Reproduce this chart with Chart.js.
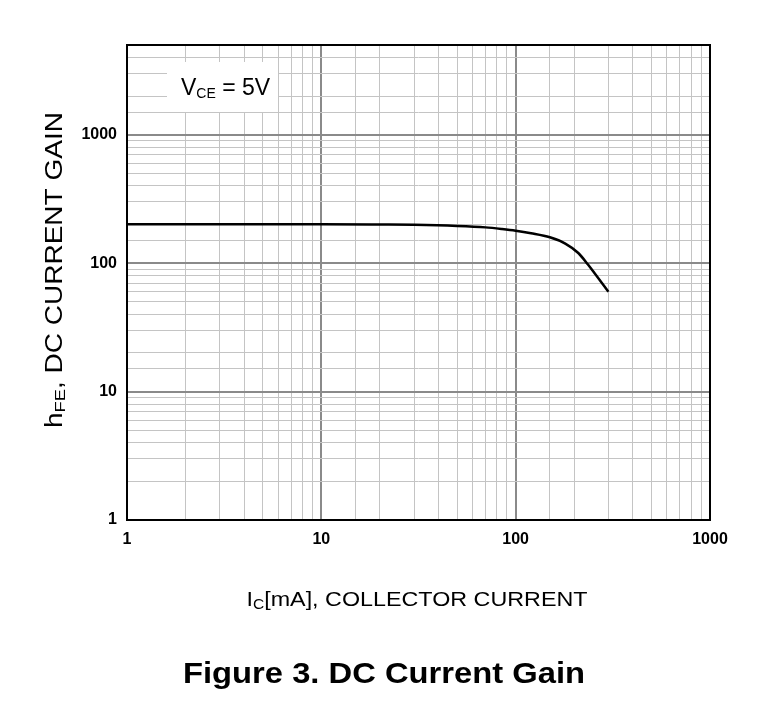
<!DOCTYPE html>
<html>
<head>
<meta charset="utf-8">
<script src="https://cdn.jsdelivr.net/npm/chart.js@4/dist/chart.umd.min.js"></script>
<style>
  html, body { margin: 0; padding: 0; background: #fff; }
  #wrap { width: 774px; height: 714px; }
</style>
</head>
<body>
<div id="wrap"><canvas id="gain" width="774" height="714"></canvas></div>
<script>
// collector current in mA, and the DC current gain
var currentMA = [1, 2, 5, 10, 20, 30, 50, 70, 85, 100, 120, 150, 180, 210, 235, 260, 300];
var hfe = [201, 201, 201, 201, 200, 199, 195, 190, 184.5, 179, 171, 159, 142, 120, 98, 80, 60];
var majorTicks = [1, 10, 100, 1000];

var FONT = 'Arial, "Liberation Sans", sans-serif';

function isMajor(v) {
    return majorTicks.indexOf(Math.round(v)) >= 0;
}

function gridColor(ctx) {
    return ctx.tick && isMajor(ctx.tick.value) ? '#8a8a8a' : '#c4c4c4';
}
function gridWidth(ctx) {
    return ctx.tick && isMajor(ctx.tick.value) ? 2 : 1;
}
function tickLabel(v) {
    return isMajor(v) ? String(Math.round(v)) : '';
}

// draws a run of [text, size, dy] pieces starting at x
function drawRun(c, parts, x, y) {
    parts.forEach(function (p) {
        c.font = p[1] + 'px ' + FONT;
        c.fillText(p[0], x, y + p[2]);
        x += c.measureText(p[0]).width;
    });
}
function runWidth(c, parts) {
    var w = 0;
    parts.forEach(function (p) {
        c.font = p[1] + 'px ' + FONT;
        w += c.measureText(p[0]).width;
    });
    return w;
}

// centred run, stretched along its direction to the reference width
function drawStretched(c, parts, cx, y, targetW) {
    var w = runWidth(c, parts);
    var k = targetW / w;
    c.save();
    c.translate(cx, y);
    c.scale(k, 1);
    drawRun(c, parts, -w / 2, 0);
    c.restore();
}

var decorations = {
    id: 'decorations',
    afterDraw: function (chart) {
        var c = chart.ctx;
        var a = chart.chartArea;
        c.save();

        // plot frame
        c.strokeStyle = '#000';
        c.lineWidth = 2;
        c.strokeRect(a.left, a.top, a.right - a.left, a.bottom - a.top);

        // condition label
        c.fillStyle = '#fff';
        c.fillRect(167, 62, 111, 50);
        c.fillStyle = '#000';
        c.textBaseline = 'alphabetic';
        c.textAlign = 'left';
        drawRun(c, [['V', 23, 0], ['CE', 14, 3], [' = 5V', 23, 0]], 181, 95);

        // x axis title
        drawStretched(c, [['I', 21, 0], ['C', 14, 3], ['[mA], COLLECTOR CURRENT', 21, 0]], 417, 606, 341);

        // y axis title
        c.save();
        c.translate(62, 270);
        c.rotate(-Math.PI / 2);
        drawStretched(c, [['h', 23, 0], ['FE', 15, 3], [', DC CURRENT GAIN', 23, 0]], 0, 0, 316);
        c.restore();

        // figure caption
        c.save();
        c.font = 'bold 30px ' + FONT;
        var tw = c.measureText('Figure 3. DC Current Gain').width;
        c.translate(384, 683);
        c.scale(402 / tw, 1);
        c.textAlign = 'center';
        c.fillText('Figure 3. DC Current Gain', 0, 0);
        c.restore();

        c.restore();
    }
};

new Chart(document.getElementById('gain').getContext('2d'), {
    type: 'line',
    data: {
        datasets: [{
            data: currentMA.map(function (x, i) { return { x: x, y: hfe[i] }; }),
            borderColor: '#000',
            borderWidth: 2.5,
            pointRadius: 0,
            fill: false,
            cubicInterpolationMode: 'monotone'
        }]
    },
    options: {
        responsive: false,
        animation: false,
        devicePixelRatio: 1,
        layout: { padding: { left: 0, top: 45, right: 64, bottom: 0 } },
        plugins: {
            legend: { display: false },
            tooltip: { enabled: false }
        },
        scales: {
            x: {
                type: 'logarithmic',
                min: 1,
                max: 1000,
                border: { display: false },
                grid: { color: gridColor, lineWidth: gridWidth, drawTicks: false },
                ticks: {
                    autoSkip: false,
                    maxRotation: 0,
                    padding: 10,
                    color: '#000',
                    font: { family: FONT, size: 16, weight: 'bold' },
                    callback: tickLabel
                },
                afterFit: function (s) { s.height = 194; }
            },
            y: {
                type: 'logarithmic',
                min: 1,
                max: 5000,
                border: { display: false },
                grid: { color: gridColor, lineWidth: gridWidth, drawTicks: false },
                ticks: {
                    autoSkip: false,
                    padding: 10,
                    color: '#000',
                    font: { family: FONT, size: 16, weight: 'bold' },
                    callback: tickLabel
                },
                afterFit: function (s) { s.width = 127; }
            }
        }
    },
    plugins: [decorations]
});
</script>
</body>
</html>
